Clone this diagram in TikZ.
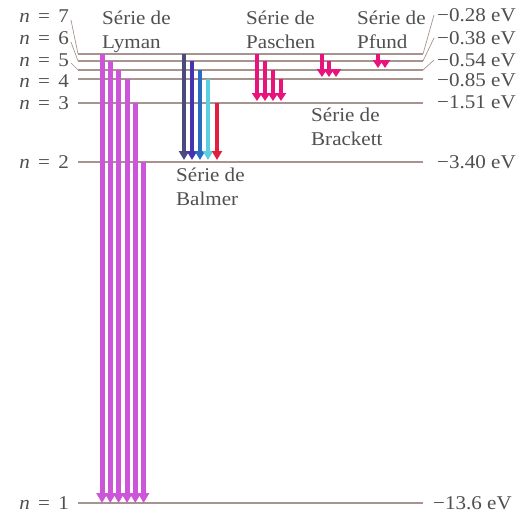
\documentclass[tikz,border=0pt]{standalone}
\usepackage{fontspec}
\setmainfont{Liberation Serif}[FakeStretch=1.08]
\usetikzlibrary{arrows.meta}
\definecolor{lvl}{HTML}{A8948E}
\definecolor{txt}{HTML}{505050}
\definecolor{lyman}{HTML}{CC55D8}
\definecolor{pinkser}{HTML}{E8147C}
\definecolor{baA}{HTML}{4A4A7E}
\definecolor{baB}{HTML}{4434B0}
\definecolor{baC}{HTML}{2A6CC4}
\definecolor{baD}{HTML}{5CCFE0}
\definecolor{baE}{HTML}{E0203E}
\begin{document}
\begin{tikzpicture}[x=1pt,y=-1pt,
  lab/.style={text=txt,font=\fontsize{19.5}{24}\selectfont,inner sep=0pt},
  serieslab/.style={lab,align=left,anchor=north west},
  levelline/.style={draw=lvl,line width=1.3pt},
  conn/.style={draw=lvl,line width=0.7pt},
  lyarrow/.style={draw=lyman,line width=5pt,-{Triangle[width=11pt,length=10pt]}},
  baarrow/.style={line width=4.5pt,shorten >=2pt,-{Triangle[width=10pt,length=9pt]}},
  pkarrow/.style={draw=pinkser,line width=4pt,shorten >=2pt,-{Triangle[width=10pt,length=8pt]}}]
\fill[white] (0,0) rectangle (528,517);
\useasboundingbox (0,0) rectangle (528,517);

% energy levels
\foreach \n/\y in {7/54,6/61,5/70,4/79,3/103,2/162,1/503}{
  \coordinate (L\n) at (78,\y);
  \coordinate (R\n) at (423,\y);
  \draw[levelline] (L\n) -- (R\n);
}

% left labels
\node[lab,anchor=east] (n7) at (69,16) {\textit{n}\hspace{.42em}=\hspace{.42em}7};
\node[lab,anchor=east] (n6) at (69,38) {\textit{n}\hspace{.42em}=\hspace{.42em}6};
\node[lab,anchor=east] (n5) at (69,60) {\textit{n}\hspace{.42em}=\hspace{.42em}5};
\node[lab,anchor=east] (n4) at (69,81) {\textit{n}\hspace{.42em}=\hspace{.42em}4};
\node[lab,anchor=east] (n3) at (69,103) {\textit{n}\hspace{.42em}=\hspace{.42em}3};
\node[lab,anchor=east] (n2) at (69,162) {\textit{n}\hspace{.42em}=\hspace{.42em}2};
\node[lab,anchor=east] (n1) at (69,503) {\textit{n}\hspace{.42em}=\hspace{.42em}1};

% right labels
\node[lab,anchor=west] (e7) at (437,15) {−0.28 eV};
\node[lab,anchor=west] (e6) at (437,38) {−0.38 eV};
\node[lab,anchor=west] (e5) at (437,60) {−0.54 eV};
\node[lab,anchor=west] (e4) at (437,80) {−0.85 eV};
\node[lab,anchor=west] (e3) at (437,102) {−1.51 eV};
\node[lab,anchor=west] (e2) at (437,162) {−3.40 eV};
\node[lab,anchor=west] (e1) at (433,503) {−13.6 eV};

% connectors to labels
\draw[conn] (n7.east) ++(2,4) -- (L7);
\draw[conn] (n6.east) ++(2,4) -- (L6);
\draw[conn] (n5.east) ++(2,3) -- (L5);
\draw[conn] (R7) -- ([xshift=-3pt]e7.west);
\draw[conn] (R6) -- ([xshift=-3pt]e6.west);
\draw[conn] (R5) -- ([xshift=-3pt]e5.west);

% series labels
\node[serieslab] (lyman) at (102,11) {Série de\\Lyman};
\node[serieslab] (paschen) at (246,11) {Série de\\Paschen};
\node[serieslab] (pfund) at (357,11) {Série de\\Pfund};
\node[serieslab] (brackett) at (311,108) {Série de\\Brackett};
\node[serieslab] (balmer) at (176,168) {Série de\\Balmer};

% Lyman series
\foreach \i/\x/\n in {1/102/7,2/110.3/6,3/118.6/5,4/127/4,5/135.3/3,6/143.6/2}{
  \coordinate (ly\i) at (\x,0);
  \draw[lyarrow] (ly\i |- L\n) -- (ly\i |- L1);
}

% Balmer series
\foreach \i/\x/\n/\c in {1/184/7/baA,2/192/6/baB,3/200/5/baC,4/208/4/baD,5/217/3/baE}{
  \coordinate (ba\i) at (\x,0);
  \draw[baarrow,draw=\c] (ba\i |- L\n) -- (ba\i |- L2);
}

% Paschen series
\foreach \i/\x/\n in {1/257/7,2/265/6,3/273/5,4/281/4}{
  \coordinate (pa\i) at (\x,0);
  \draw[pkarrow] (pa\i |- L\n) -- (pa\i |- L3);
}

% Brackett series
\foreach \i/\x/\n in {1/322/7,2/329/6,3/336/5}{
  \coordinate (br\i) at (\x,0);
  \draw[pkarrow] (br\i |- L\n) -- (br\i |- L4);
}

% Pfund series
\foreach \i/\x/\n in {1/378/7,2/385/6}{
  \coordinate (pf\i) at (\x,0);
  \draw[pkarrow] (pf\i |- L\n) -- (pf\i |- L5);
}
\end{tikzpicture}
\end{document}
